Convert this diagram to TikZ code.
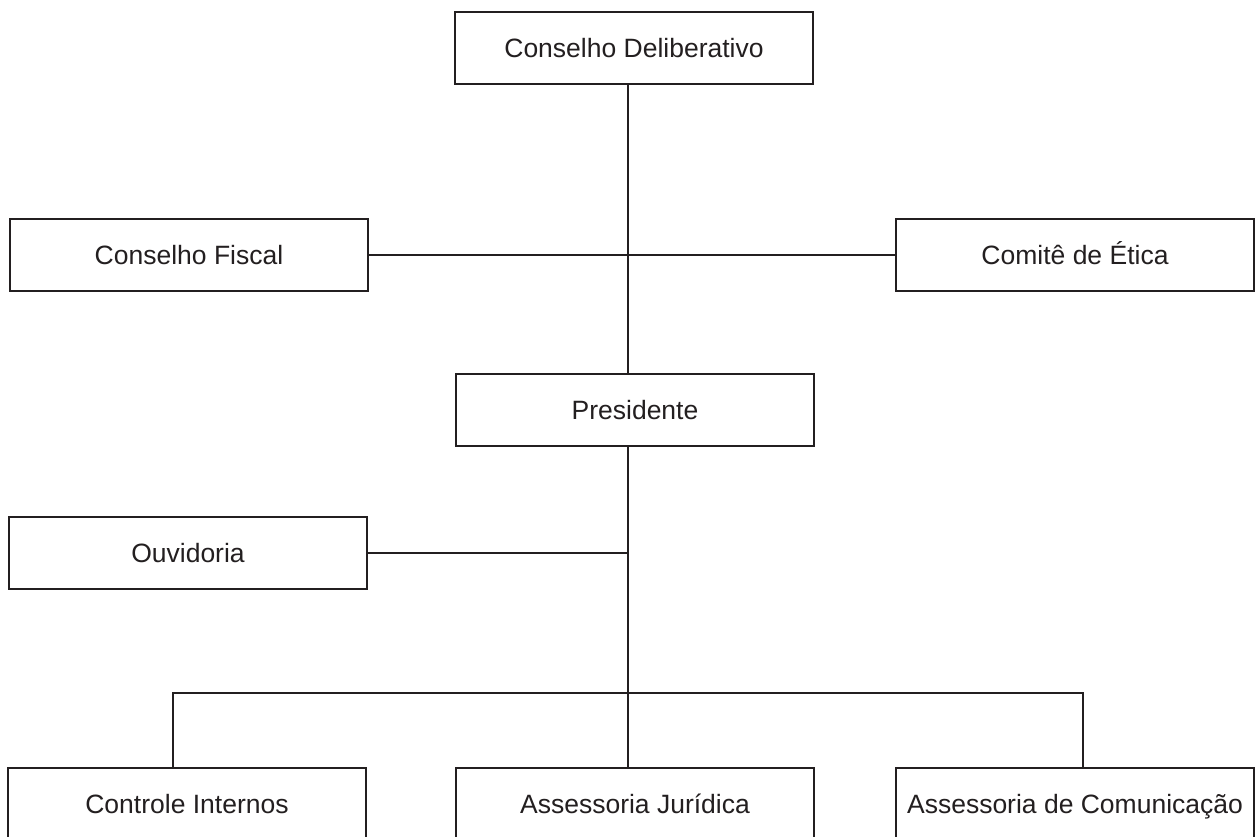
\documentclass[tikz,border=0pt]{standalone}
\usepackage{fontspec}
\setmainfont{Liberation Sans}
\definecolor{ink}{HTML}{231F20}
\begin{document}
\begin{tikzpicture}[x=1pt,y=-1pt,
  box/.style={draw=ink, line width=2pt, fill=white, minimum width=358pt, minimum height=72pt, inner sep=0pt, text height=21pt, text depth=2pt, font=\fontsize{26.5}{30}\selectfont, text=ink},
  link/.style={draw=ink, line width=2pt}]
\useasboundingbox (0,0) rectangle (1255,836);
\clip (0,0) rectangle (1255,836);
\fill[white] (0,0) rectangle (1255,836);
\node[box] (cd) at (634,48) {Conselho Deliberativo};
\node[box] (cf) at (189,255) {Conselho Fiscal};
\node[box] (ce) at (1075,255) {Comitê de Ética};
\node[box] (pr) at (635,410) {Presidente};
\node[box] (ou) at (188,553) {Ouvidoria};
\node[box] (ci) at (187,804) {Controle Internos};
\node[box] (aj) at (635,804) {Assessoria Jurídica};
\node[box] (ac) at (1075,804) {Assessoria de Comunicação};
\coordinate (tx) at (628,0);
\coordinate (busL) at (173,693);
\coordinate (busR) at (1083,693);
\draw[link] (cd.south -| tx) -- (pr.north -| tx);
\draw[link] (cf.east) -- (ce.west);
\draw[link] (pr.south -| tx) -- (aj.north -| tx);
\draw[link] (ou.east) -- (ou.east -| tx);
\draw[link] (ci.north -| busL) -- (busL) -- (busR) -- (ac.north -| busR);
\end{tikzpicture}
\end{document}
